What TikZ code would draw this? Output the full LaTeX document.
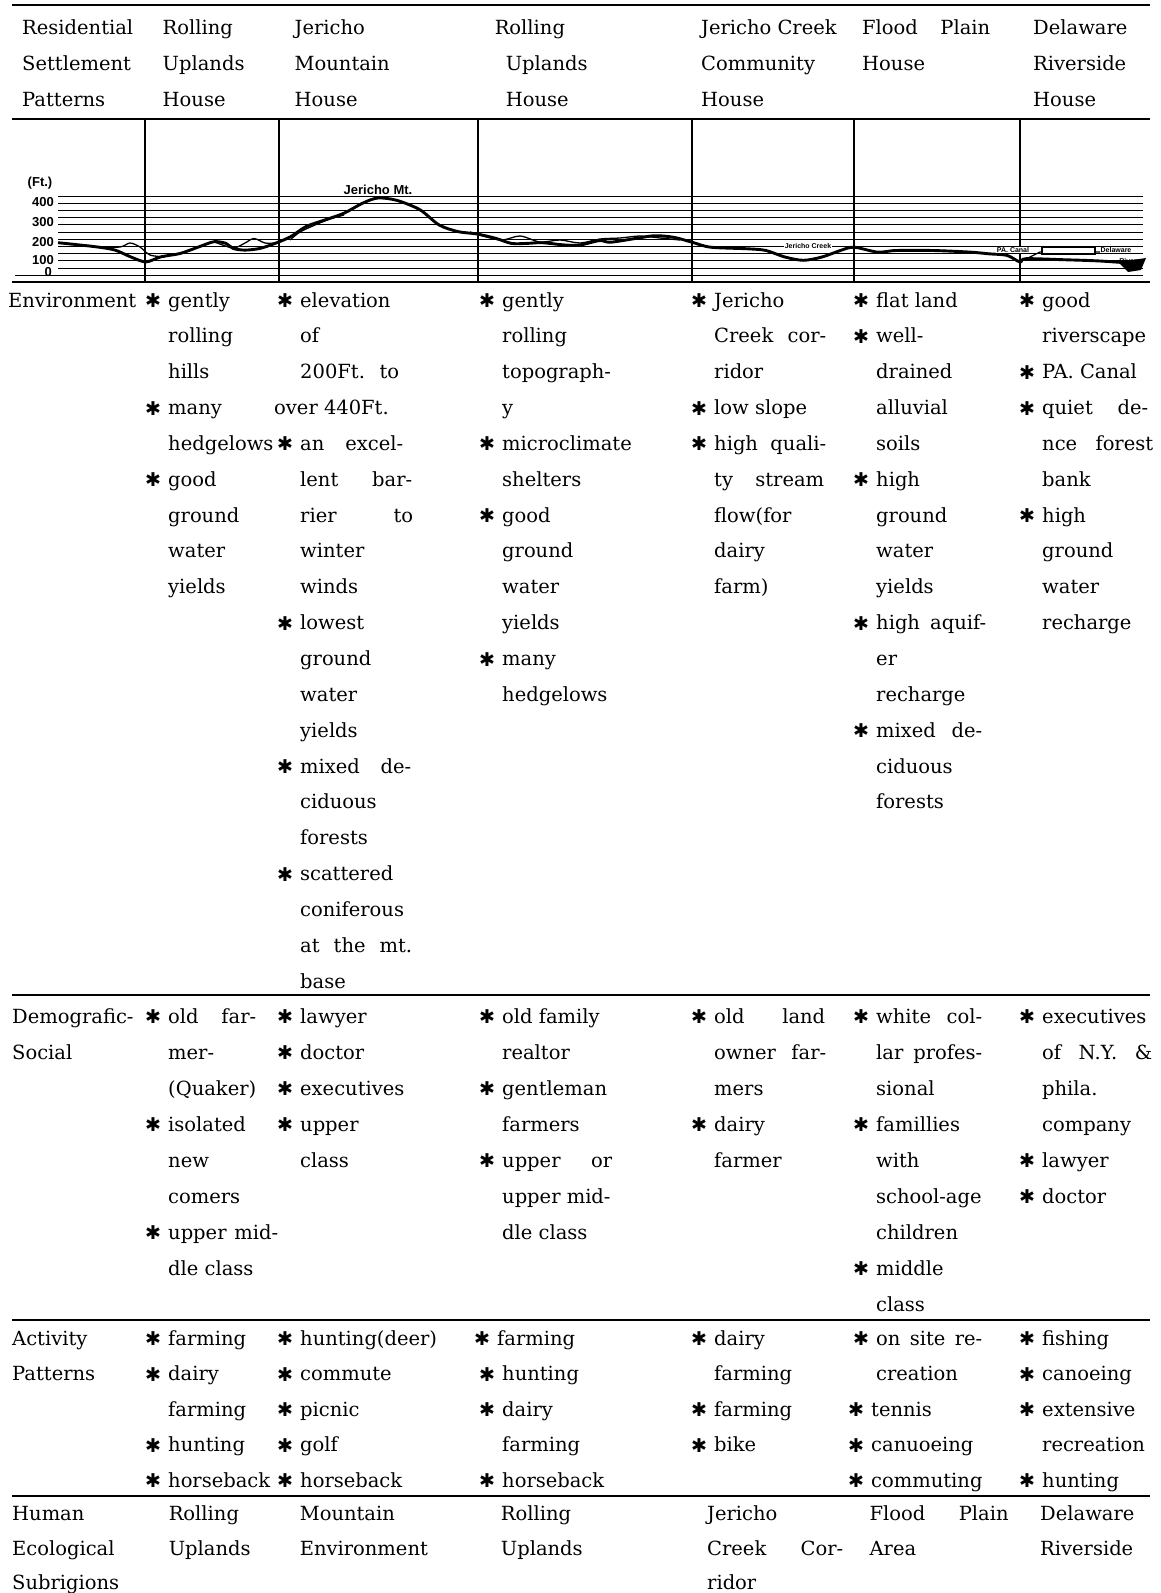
\documentclass[tikz,border=0pt]{standalone}
\usepackage{fontspec}
\setmainfont{DejaVu Serif}
\newfontfamily\dvsans{DejaVu Sans}
\newfontfamily\lsans{Liberation Sans}
\newcommand\bulx{\raisebox{-0.5pt}{\dvsans\bfseries\fontsize{19}{19}\selectfont\char"2731}}
\newcommand\Bu{\makebox[23pt][l]{\bulx}}
\newcommand\Bt{\hspace*{-5pt}\makebox[23pt][l]{\bulx}}
\newcommand\Ci{\hspace*{23pt}}
\newcommand\Jl[2]{\hbox to #1pt{#2}}
\newcommand\rows[1]{\begin{tabular}[t]{@{}l@{}}#1\end{tabular}}
\begin{document}
\begin{tikzpicture}[x=1pt,y=-1pt,
  cellHd/.style={anchor=base west,inner sep=0pt,font=\fontsize{19.5}{36}\selectfont},
  cellE/.style={anchor=base west,inner sep=0pt,font=\fontsize{19.5}{35.85}\selectfont},
  cellD/.style={anchor=base west,inner sep=0pt,font=\fontsize{19.5}{36}\selectfont},
  cellA/.style={anchor=base west,inner sep=0pt,font=\fontsize{19.5}{35.6}\selectfont},
  cellH/.style={anchor=base west,inner sep=0pt,font=\fontsize{19.5}{34.7}\selectfont},
  rule/.style={line width=1.6pt},
  vline/.style={line width=1.7pt},
  gridline/.style={line width=1.0pt},
  profile/.style={line width=2.9pt,line join=round},
  thinprof/.style={line width=1.3pt},
  axl/.style={inner sep=0pt,font=\lsans\bfseries\fontsize{13}{13}\selectfont},
  tinyl/.style={inner sep=0.5pt,fill=white,font=\lsans\bfseries\fontsize{7}{7}\selectfont}]
\useasboundingbox (0,0) rectangle (1161,1593);
\fill[white] (0,0) rectangle (1161,1593);

% horizontal rules
\draw[rule] (12,5) -- (1150,5);
\draw[rule] (12,119) -- (1150,119);
\draw[rule] (12,282) -- (1150,282);
\draw[rule] (12,995) -- (1150,995);
\draw[rule] (12,1320) -- (1150,1320);
\draw[rule] (12,1496) -- (1150,1496);

% elevation grid
\foreach \k in {0,...,10} \draw[gridline] (58,{196+7.2*\k}) -- (1143,{196+7.2*\k});
\draw[gridline] (15,275) -- (1143,275);

% vertical column lines in the profile band
\foreach \xx in {145,279,478,692,854,1020} \draw[vline] (\xx,119) -- (\xx,282);

% axis labels
\node[axl] (ft) at (40,183) {(Ft.)};
\node[axl,anchor=east] (l400) at (54,202) {400};
\node[axl,anchor=east] (l300) at (54,222) {300};
\node[axl,anchor=east] (l200) at (54,242) {200};
\node[axl,anchor=east] (l100) at (54,260) {100};
\node[axl,anchor=base east] (l0) at (52,276) {0};

% profile
\draw[profile] plot[smooth] coordinates {(58,242.7) (96,246.8) (115,250.1) (130.5,256.8) (145.8,261.9) (161,256.8) (180,253.5) (199,246.8) (214,241.7) (226,243.4) (233,248.4) (245,250.1) (260,248.4) (275,243.4) (290.6,236.7) (306,226.6) (325,219.9) (344,213.2) (363,203) (378,198) (397,200.4) (420,209.8) (439,224.9) (458,231.6) (477,234) (496,238.4) (511.5,243.4) (527,243.4) (542,242.7) (565,245) (580,245) (599.5,240.6) (610.6,242.2) (636.6,238.3) (655,235.7) (673.7,237.3) (692,242.2) (710.7,247.2) (747.8,248.8) (766,250.5) (784.8,257) (803.4,260.3) (822,257) (840.4,250.5) (854,247.2) (877.5,252.1) (896,250.5) (933,250.5) (970,252.1) (988.7,253.8) (1007,255.4) (1020,262) (1025.7,258.7) (1063,259.7) (1100,261) (1137,263.6)};
\draw[thinprof] plot[smooth] coordinates {(96,247) (120,247) (130,243) (140,247) (150,255) (165,257)};
\draw[thinprof] plot[smooth] coordinates {(214,241.7) (233,248) (245,243) (254,238.5) (265,243) (275,243)};
\draw[thinprof] plot[smooth] coordinates {(290,240) (300,232) (315,225) (330,219) (344,215)};
\draw[thinprof] plot[smooth] coordinates {(470,232) (500,240) (520,236) (540,242) (560,240) (580,243) (600,239) (620,238) (640,236) (660,238) (680,240)};
\draw[thinprof] (1020,262) -- (1040,252) -- (1115,252);
\node[axl] (jmt) at (378,190) {Jericho Mt.};
\node[tinyl] (jcr) at (808,246) {Jericho Creek};
\node[tinyl] (pac) at (1013,250) {PA. Canal};
\draw[thinprof,fill=white] (1042,247) rectangle (1095,254);
\node[tinyl] (dlw) at (1116,250) {Delaware};
\node[tinyl,fill=none] (riv) at (1128,261) {River};
\fill (1118,262) -- (1146,258) -- (1141,270) -- (1128,272) -- cycle;

% header
\node[cellHd] (h0) at (22,34.5) {\rows{Residential\\Settlement\\Patterns}};
\node[cellHd] (h1) at (162.5,34.5) {\rows{Rolling\\Uplands\\House}};
\node[cellHd] (h2) at (294.5,34.5) {\rows{Jericho\\Mountain\\House}};
\node[cellHd] (h3) at (494.6,34.5) {\rows{Rolling\\\hspace*{11pt}Uplands\\\hspace*{11pt}House}};
\node[cellHd] (h4) at (701,34.5) {\rows{Jericho Creek\\Community\\House}};
\node[cellHd] (h5) at (862,34.5) {\rows{\Jl{128}{Flood\hfill Plain}\\House}};
\node[cellHd] (h6) at (1033,34.5) {\rows{Delaware\\Riverside\\House}};

% environment
\node[cellE] (e0) at (8,307) {\rows{Environment}};
\node[cellE] (e1) at (145,307) {\rows{\Bu gently\\ \Ci rolling\\ \Ci hills\\ \Bu many\\ \Ci hedgelows\\ \Bu good\\ \Ci ground\\ \Ci water\\ \Ci yields}};
\node[cellE] (e2) at (277,307) {\rows{\Bu elevation\\ \Ci of\\ \Jl{122}{\Ci 200Ft.\hfill to}\\ \hspace*{-3pt}over 440Ft.\\ \Jl{126}{\Bu an\hfill excel-}\\ \Jl{135}{\Ci lent\hfill bar-}\\ \Jl{136}{\Ci rier\hfill to}\\ \Ci winter\\ \Ci winds\\ \Bu lowest\\ \Ci ground\\ \Ci water\\ \Ci yields\\ \Jl{134}{\Bu mixed\hfill de-}\\ \Ci ciduous\\ \Ci forests\\ \Bu scattered\\ \Ci coniferous\\ \Jl{135}{\Ci at\hfill the\hfill mt.}\\ \Ci base}};
\node[cellE] (e3) at (479,307) {\rows{\Bu gently\\ \Ci rolling\\ \Ci topograph-\\ \Ci y\\ \Bu microclimate\\ \Ci shelters\\ \Bu good\\ \Ci ground\\ \Ci water\\ \Ci yields\\ \Bu many\\ \Ci hedgelows}};
\node[cellE] (e4) at (691,307) {\rows{\Bu Jericho\\ \Jl{135}{\Ci Creek\hfill cor-}\\ \Ci ridor\\ \Bu low slope\\ \Jl{135}{\Bu high\hfill quali-}\\ \Jl{133}{\Ci ty\hfill stream}\\ \Ci flow(for\\ \Ci dairy\\ \Ci farm)}};
\node[cellE] (e5) at (853,307) {\rows{\Bu flat land\\ \Bu well-\\ \Ci drained\\ \Ci alluvial\\ \Ci soils\\ \Bu high\\ \Ci ground\\ \Ci water\\ \Ci yields\\ \Jl{133}{\Bu high\hfill aquif-}\\ \Ci er\\ \Ci recharge\\ \Jl{129}{\Bu mixed\hfill de-}\\ \Ci ciduous\\ \Ci forests}};
\node[cellE] (e6) at (1019,307) {\rows{\Bu good\\ \Ci riverscape\\ \Bu PA. Canal\\ \Jl{129}{\Bu quiet\hfill de-}\\ \Jl{134}{\Ci nce\hfill forest}\\ \Ci bank\\ \Bu high\\ \Ci ground\\ \Ci water\\ \Ci recharge}};

% demografic-social
\node[cellD] (d0) at (12,1023) {\rows{Demografic-\\Social}};
\node[cellD] (d1) at (145,1023) {\rows{\Jl{111}{\Bu old\hfill far-}\\ \Ci mer-\\ \Ci (Quaker)\\ \Bu isolated\\ \Ci new\\ \Ci comers\\ \Jl{133}{\Bu upper\hfill mid-}\\ \Ci dle class}};
\node[cellD] (d2) at (277,1023) {\rows{\Bu lawyer\\ \Bu doctor\\ \Bu executives\\ \Bu upper\\ \Ci class}};
\node[cellD] (d3) at (479,1023) {\rows{\Bu old family\\ \Ci realtor\\ \Bu gentleman\\ \Ci farmers\\ \Jl{133}{\Bu upper\hfill or}\\ \Ci upper mid-\\ \Ci dle class}};
\node[cellD] (d4) at (691,1023) {\rows{\Jl{134}{\Bu old\hfill land}\\ \Jl{135}{\Ci owner\hfill far-}\\ \Ci mers\\ \Bu dairy\\ \Ci farmer}};
\node[cellD] (d5) at (853,1023) {\rows{\Jl{129}{\Bu white\hfill col-}\\ \Jl{129}{\Ci lar\hfill profes-}\\ \Ci sional\\ \Bu famillies\\ \Ci with\\ \Ci school-age\\ \Ci children\\ \Bu middle\\ \Ci class}};
\node[cellD] (d6) at (1019,1023) {\rows{\Bu executives\\ \Jl{133}{\Ci of\hfill N.Y.\hfill \&}\\ \Ci phila.\\ \Ci company\\ \Bu lawyer\\ \Bu doctor}};

% activity patterns
\node[cellA] (a0) at (12,1345) {\rows{Activity\\Patterns}};
\node[cellA] (a1) at (145,1345) {\rows{\Bu farming\\ \Bu dairy\\ \Ci farming\\ \Bu hunting\\ \Bu horseback}};
\node[cellA] (a2) at (277,1345) {\rows{\Bu hunting(deer)\\ \Bu commute\\ \Bu picnic\\ \Bu golf\\ \Bu horseback}};
\node[cellA] (a3) at (479,1345) {\rows{\Bt farming\\ \Bu hunting\\ \Bu dairy\\ \Ci farming\\ \Bu horseback}};
\node[cellA] (a4) at (691,1345) {\rows{\Bu dairy\\ \Ci farming\\ \Bu farming\\ \Bu bike}};
\node[cellA] (a5) at (853,1345) {\rows{\Jl{129}{\Bu on\hfill site\hfill re-}\\ \Ci creation\\ \Bt tennis\\ \Bt canuoeing\\ \Bt commuting}};
\node[cellA] (a6) at (1019,1345) {\rows{\Bu fishing\\ \Bu canoeing\\ \Bu extensive\\ \Ci recreation\\ \Bu hunting}};

% human ecological subrigions
\node[cellH] (u0) at (12,1520.5) {\rows{Human\\Ecological\\Subrigions}};
\node[cellH] (u1) at (168.6,1520.5) {\rows{Rolling\\Uplands}};
\node[cellH] (u2) at (299.6,1520.5) {\rows{Mountain\\Environment}};
\node[cellH] (u3) at (500.7,1520.5) {\rows{Rolling\\Uplands}};
\node[cellH] (u4) at (707,1520.5) {\rows{Jericho\\ \Jl{136}{Creek\hfill Cor-}\\ ridor}};
\node[cellH] (u5) at (869.4,1520.5) {\rows{\Jl{139}{Flood\hfill Plain}\\ Area}};
\node[cellH] (u6) at (1040,1520.5) {\rows{Delaware\\Riverside}};
\end{tikzpicture}
\end{document}
